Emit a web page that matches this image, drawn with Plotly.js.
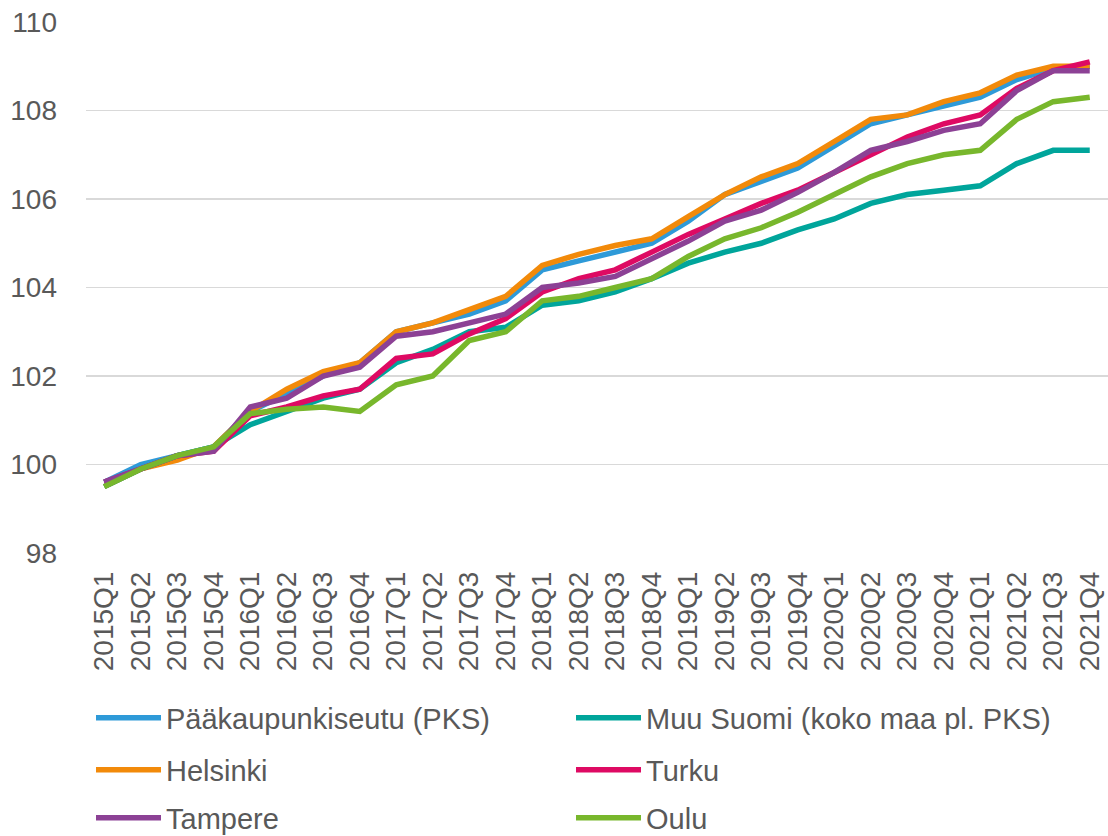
<!DOCTYPE html>
<html>
<head>
<meta charset="utf-8">
<script src="https://cdn.plot.ly/plotly-3.0.1.min.js"></script>
<style>html,body{margin:0;padding:0;background:#fff;}#chart{width:1108px;height:836px;}</style>
</head>
<body>
<div id="chart"></div>
<script>
const quarters = ["2015Q1","2015Q2","2015Q3","2015Q4","2016Q1","2016Q2","2016Q3","2016Q4","2017Q1","2017Q2","2017Q3","2017Q4","2018Q1","2018Q2","2018Q3","2018Q4","2019Q1","2019Q2","2019Q3","2019Q4","2020Q1","2020Q2","2020Q3","2020Q4","2021Q1","2021Q2","2021Q3","2021Q4"];

const pks      = [99.6,100.0,100.2,100.4,101.2,101.6,102.0,102.3,103.0,103.2,103.4,103.7,104.4,104.6,104.8,105.0,105.5,106.1,106.4,106.7,107.2,107.7,107.9,108.1,108.3,108.7,108.95,109.0];
const helsinki = [99.5,99.9,100.1,100.4,101.2,101.7,102.1,102.3,103.0,103.2,103.5,103.8,104.5,104.75,104.95,105.1,105.6,106.1,106.5,106.8,107.3,107.8,107.9,108.2,108.4,108.8,109.0,109.0];
const muu      = [99.5,99.9,100.2,100.4,100.9,101.2,101.5,101.7,102.3,102.6,103.0,103.1,103.6,103.7,103.9,104.2,104.55,104.8,105.0,105.3,105.55,105.9,106.1,106.2,106.3,106.8,107.1,107.1];
const turku    = [99.6,99.9,100.2,100.3,101.1,101.3,101.55,101.7,102.4,102.5,102.95,103.3,103.9,104.2,104.4,104.8,105.2,105.55,105.9,106.2,106.6,107.0,107.4,107.7,107.9,108.5,108.9,109.1];
const tampere  = [99.6,99.9,100.2,100.3,101.3,101.5,102.0,102.2,102.9,103.0,103.2,103.4,104.0,104.1,104.25,104.65,105.05,105.5,105.75,106.15,106.6,107.1,107.3,107.55,107.7,108.45,108.9,108.9];
const oulu     = [99.5,99.9,100.2,100.4,101.15,101.25,101.3,101.2,101.8,102.0,102.8,103.0,103.7,103.8,104.0,104.2,104.7,105.1,105.35,105.7,106.1,106.5,106.8,107.0,107.1,107.8,108.2,108.3];

const yTicks = [98,100,102,104,106,108,110];

const names = ["Pääkaupunkiseutu (PKS)","Helsinki","Muu Suomi (koko maa pl. PKS)","Turku","Tampere","Oulu"];
const colors = ["#2E9AD8","#F28A0A","#00A59B","#DE0A63","#8C4195","#78B72C"];
const series = [pks, helsinki, muu, turku, tampere, oulu];
const legendOf = ["legend","legend2","legend","legend2","legend3","legend3"];
const ranks = [1,1,2,2,1,2];

const traces = series.map((s,i)=>({
  type:"scatter", mode:"lines", x:quarters, y:s, name:names[i],
  line:{color:colors[i], width:5.5, shape:"linear"},
  legend:legendOf[i], legendrank:ranks[i], hoverinfo:"skip"
}));

const fontFam = "Liberation Sans, Arial, sans-serif";
const legendBase = {orientation:"h", xanchor:"left", yanchor:"middle", x:5/1022, entrywidth:400, entrywidthmode:"pixels",
  itemwidth:65, font:{family:fontFam, size:29, color:"#595959"}, bgcolor:"rgba(0,0,0,0)", tracegroupgap:0};

const layout = {
  width:1108, height:836,
  margin:{l:86, r:0, t:22, b:283, autoexpand:false},
  paper_bgcolor:"#fff", plot_bgcolor:"#fff",
  showlegend:true,
  xaxis:{type:"category", range:[-0.5,27.5], showgrid:false, zeroline:false, showline:false, automargin:false,
    tickangle:-90, tickfont:{family:fontFam, size:28, color:"#595959"}, ticks:"", ticklabelstandoff:12},
  yaxis:{range:[98,110], tickvals:yTicks, ticktext:yTicks.map(String), showgrid:true, gridcolor:"#D9D9D9", gridwidth:1.5,
    zeroline:false, showline:false, ticks:"", automargin:false, tickfont:{family:fontFam, size:28, color:"#595959"}, ticklabelstandoff:28},
  legend:Object.assign({}, legendBase, {y:(553-718)/531}),
  legend2:Object.assign({}, legendBase, {y:(553-770)/531}),
  legend3:Object.assign({}, legendBase, {y:(553-818)/531})
};

Plotly.newPlot("chart", traces, layout, {displayModeBar:false, staticPlot:true});
</script>
</body>
</html>
